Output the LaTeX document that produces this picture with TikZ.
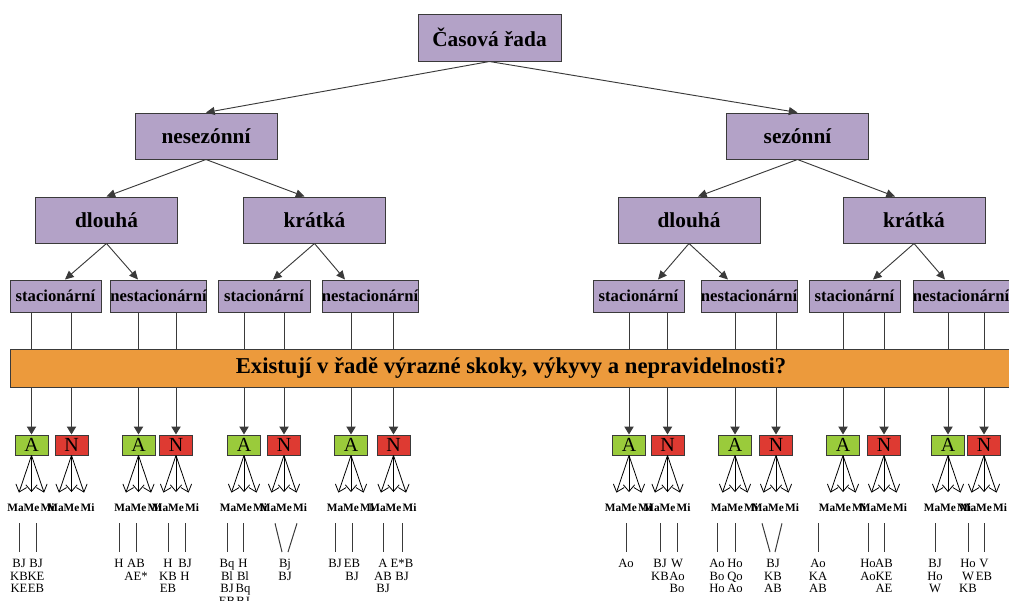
\documentclass[tikz,border=0pt]{standalone}
\usepackage{fontspec}
\setmainfont{Liberation Serif}
\usetikzlibrary{arrows.meta,calc}
\definecolor{lav}{HTML}{B3A2C7}
\definecolor{orng}{HTML}{EC9A3C}
\definecolor{agreen}{HTML}{9ACB3B}
\definecolor{nred}{HTML}{DE3A32}
\definecolor{edge}{HTML}{3A3A3A}
\begin{document}
\begin{tikzpicture}[x=0.75pt,y=-0.75pt,
 box/.style={draw=edge,line width=0.75pt,fill=lav,inner sep=0pt},
 big/.style={box,minimum width=106.5pt,minimum height=34.5pt,font=\bfseries\fontsize{16}{18}\selectfont},
 stat/.style={box,minimum height=24pt,font=\bfseries\fontsize{12.5}{14}\selectfont},
 bar/.style={draw=edge,line width=0.75pt,fill=orng,minimum width=751.5pt,minimum height=28.5pt,inner sep=0pt,font=\bfseries\fontsize{17}{19}\selectfont},
 anbox/.style={draw=edge,line width=0.75pt,minimum width=24.75pt,minimum height=15pt,inner sep=0pt,text height=10pt,text depth=0pt,font=\fontsize{15}{15}\selectfont},
 lbl/.style={inner sep=0pt,text height=6pt,text depth=0pt,font=\bfseries\fontsize{8.5}{9}\selectfont},
 meth/.style={anchor=north,inner sep=0pt,align=center,font=\fontsize{9.5}{9.4}\selectfont},
 tarr/.style={draw=edge,line width=0.7pt,-{Triangle[length=6.5pt,width=6pt]}},
 darr/.style={draw=edge,line width=0.75pt,-{Triangle[length=6pt,width=7pt]}},
 fan/.style={draw=black,line width=0.6pt,-{Straight Barb[length=5pt,width=8.5pt]},shorten >=8pt},
 vl/.style={draw=edge,line width=0.75pt,shorten <=9pt,shorten >=5.25pt},
]
\useasboundingbox (0,0) rectangle (1009,600);

% tree
\node[box,minimum width=107.25pt,minimum height=35.25pt,font=\bfseries\fontsize{16}{18}\selectfont] (top) at (489.5,37.5) {Časová řada};
\node[big] (nes) at (206,136) {nesezónní};
\node[big] (sez) at (797.5,136) {sezónní};
\node[big] (dl1) at (106.5,220) {dlouhá};
\node[big] (kr1) at (314.5,220) {krátká};
\node[big] (dl2) at (689,220) {dlouhá};
\node[big] (kr2) at (914,220) {krátká};

\node[stat,minimum width=68.25pt] (st1) at (55.5,296) {stacionární};
\node[stat,minimum width=72pt] (ns1) at (158.5,296) {\makebox[0pt]{nestacionární}};
\node[stat,minimum width=69pt] (st2) at (264,296) {stacionární};
\node[stat,minimum width=72pt] (ns2) at (370,296) {\makebox[0pt]{nestacionární}};
\node[stat,minimum width=68.25pt] (st3) at (638.5,296) {stacionární};
\node[stat,minimum width=72pt] (ns3) at (749,296) {\makebox[0pt]{nestacionární}};
\node[stat,minimum width=68.25pt] (st4) at (854.5,296) {stacionární};
\node[stat,minimum width=72pt] (ns4) at (961,296) {\makebox[0pt]{nestacionární}};

\draw[tarr] (top.south) -- (nes.north);
\draw[tarr] (top.south) -- (sez.north);
\draw[tarr] (nes.south) -- (dl1.north);
\draw[tarr] (nes.south) -- ($(kr1.north)+(-10,0)$);
\draw[tarr] (sez.south) -- ($(dl2.north)+(9,0)$);
\draw[tarr] (sez.south) -- ($(kr2.north)+(-19,0)$);
\draw[tarr] (dl1.south) -- ($(st1.north)+(9.5,0)$);
\draw[tarr] (dl1.south) -- ($(ns1.north)+(-20.5,0)$);
\draw[tarr] (kr1.south) -- ($(st2.north)+(9,0)$);
\draw[tarr] (kr1.south) -- ($(ns2.north)+(-25,0)$);
\draw[tarr] (dl2.south) -- ($(st3.north)+(19.5,0)$);
\draw[tarr] (dl2.south) -- ($(ns3.north)+(-21,0)$);
\draw[tarr] (kr2.south) -- ($(st4.north)+(18.5,0)$);
\draw[tarr] (kr2.south) -- ($(ns4.north)+(-16,0)$);

% A / N boxes with fans
\foreach \i/\c/\t/\f in {1/31.5/A/agreen,2/71.5/N/nred,3/138.5/A/agreen,4/176/N/nred,
  5/244/A/agreen,6/284/N/nred,7/351/A/agreen,8/393.5/N/nred,
  9/629/A/agreen,10/667.5/N/nred,11/735/A/agreen,12/776/N/nred,
  13/843/A/agreen,14/884/N/nred,15/948/A/agreen,16/984/N/nred}{
  \node[anbox,fill=\f] (b\i) at (\c,445) {\t};
  \node[lbl] (ma\i) at (\c-16,507) {Ma};
  \node[lbl] (me\i) at (\c,507) {Me};
  \node[lbl] (mi\i) at (\c+16,507) {Mi};
  \draw[fan] (b\i.south) -- (ma\i.north);
  \draw[fan] (b\i.south) -- (me\i.north);
  \draw[fan] (b\i.south) -- (mi\i.north);
}

\foreach \s/\a/\n in {st1/1/2,ns1/3/4,st2/5/6,ns2/7/8,st3/9/10,ns3/11/12,st4/13/14,ns4/15/16}{
  \draw[darr] (b\a.north |- \s.south) -- (b\a.north);
  \draw[darr] (b\n.north |- \s.south) -- (b\n.north);
}

\node[bar] (q) at (511,368) {Existují v řadě výrazné skoky, výkyvy a nepravidelnosti?};

% method lists
\foreach \n/\x/\l/\txt in {
  t1a/19/ma1/{BJ\\KB\\KE}, t1b/36/me1/{BJ\\KE\\EB},
  t3a/119/ma3/{H}, t3b/136/me3/{AB\\AE*},
  t4a/168/ma4/{H\\KB\\EB}, t4b/185/me4/{BJ\\H},
  t5a/227/ma5/{Bq\\Bl\\BJ\\EB}, t5b/243/me5/{H\\Bl\\Bq\\BJ},
  t7a/335/ma7/{BJ}, t7b/352/me7/{EB\\BJ},
  t8a/383/ma8/{A\\AB\\BJ}, t8b/402/me8/{E*B\\BJ},
  t9/626/me9/{Ao},
  t10a/660/ma10/{BJ\\KB}, t10b/677/me10/{W\\Ao\\Bo},
  t11a/717/ma11/{Ao\\Bo\\Ho}, t11b/735/me11/{Ho\\Qo\\Ao},
  t13/818/ma13/{Ao\\KA\\AB},
  t14a/868/ma14/{Ho\\Ao}, t14b/884/me14/{AB\\KE\\AE},
  t15/935/ma15/{BJ\\Ho\\W},
  t16a/968/ma16/{Ho\\W\\KB}, t16b/984/me16/{V\\EB}}{
  \node[meth] (\n) at (\x,559) {\txt};
  \draw[vl] (\n.north |- \l.south) -- (\n.north);
}
\node[meth] (t6) at (285,559) {Bj\\BJ};
\draw[draw=edge,line width=0.75pt] ($(ma6.south)+(7,12)$) -- ($(t6.north)+(-3,-7)$);
\draw[draw=edge,line width=0.75pt] ($(mi6.south)+(-3,12)$) -- ($(t6.north)+(3,-7)$);
\node[meth] (t12) at (773,559) {BJ\\KB\\AB};
\draw[draw=edge,line width=0.75pt] ($(ma12.south)+(2,12)$) -- ($(t12.north)+(-3,-7)$);
\draw[draw=edge,line width=0.75pt] ($(mi12.south)+(-10,12)$) -- ($(t12.north)+(2,-7)$);
\end{tikzpicture}
\end{document}
